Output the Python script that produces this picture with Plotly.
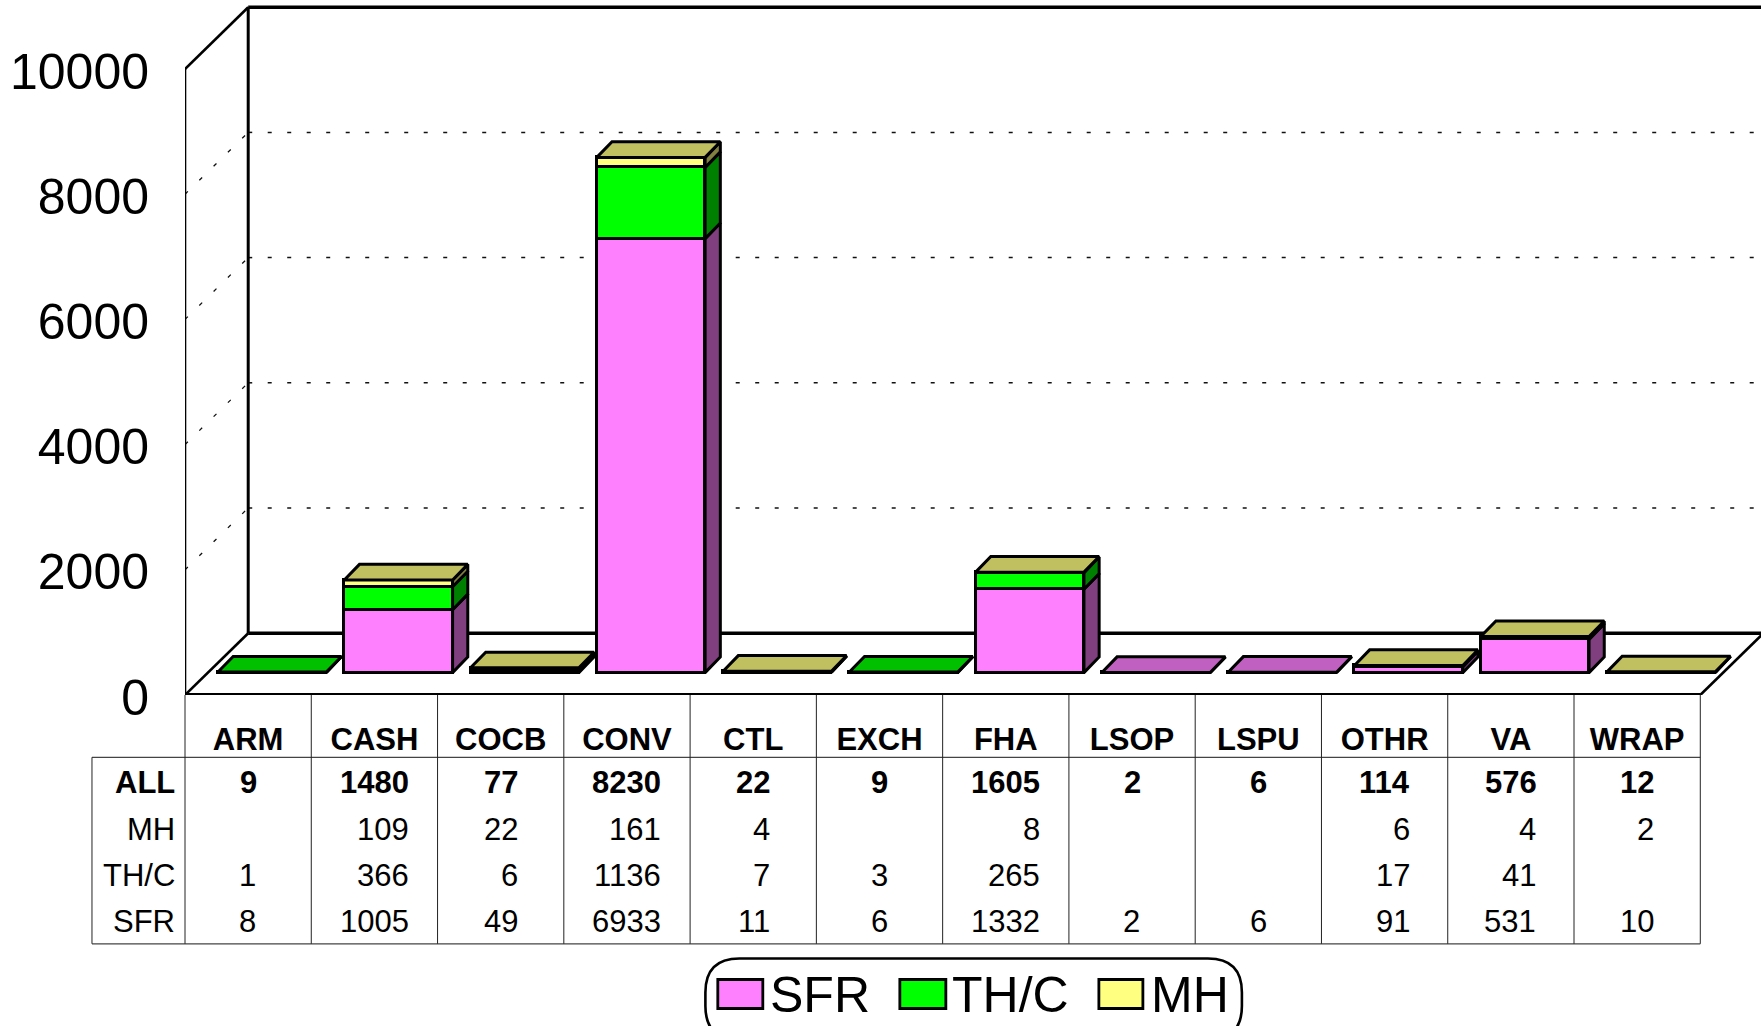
import plotly.graph_objects as go

categories = ["ARM", "CASH", "COCB", "CONV", "CTL", "EXCH", "FHA", "LSOP", "LSPU", "OTHR", "VA", "WRAP"]
all_vals = [9, 1480, 77, 8230, 22, 9, 1605, 2, 6, 114, 576, 12]
mh = [None, 109, 22, 161, 4, None, 8, None, None, 6, 4, 2]
thc = [1, 366, 6, 1136, 7, 3, 265, None, None, 17, 41, None]
sfr = [8, 1005, 49, 6933, 11, 6, 1332, 2, 6, 91, 531, 10]
y_ticks = [0, 2000, 4000, 6000, 8000, 10000]

FONT = "Liberation Sans"
W, H = 1761, 1026
PX_L, PX_FLOOR = 185.3, 695.0      # page position of the plot's origin
PX_CAT = 126.25                    # pixels per category
PX_VAL = 0.0626                    # pixels per value unit
BACK_X, BACK_Y = 63.2 / PX_CAT, 61.8 / PX_VAL     # depth of the chart box
BAR_SHIFT_X, BAR_SHIFT_Y = 24.0 / PX_CAT, 22.4 / PX_VAL
BAR_DX, BAR_DY = 15.2 / PX_CAT, 15.6 / PX_VAL
BAR_W = 108.3 / PX_CAT
LW = 3

series = [
    ("SFR", sfr, "#FF80FF", "#804080", "#C060C0"),
    ("TH/C", thc, "#00FF00", "#008000", "#00C000"),
    ("MH", mh, "#FFFF80", "#808040", "#C0C060"),
]

fig = go.Figure()
xs = list(range(len(categories)))
cum = [0.0] * len(categories)
tops = [None] * len(categories)
polys = []
for name, vals, front, side, top in series:
    bases = [c + BAR_SHIFT_Y for c in cum]
    fig.add_bar(x=[i + BAR_SHIFT_X for i in xs], y=vals, base=bases, width=BAR_W,
                name=name, showlegend=False,
                marker=dict(color=front, line=dict(color="black", width=LW)))
    sx, sy = [], []
    for i, v in enumerate(vals):
        if v is None:
            continue
        xr = i + BAR_SHIFT_X + BAR_W / 2
        y0 = bases[i]
        y1 = y0 + v
        sx += [xr, xr + BAR_DX, xr + BAR_DX, xr, xr, None]
        sy += [y0, y0 + BAR_DY, y1 + BAR_DY, y1, y0, None]
        cum[i] += v
        tops[i] = top
    polys.append((sx, sy, side))

for sx, sy, side in polys:
    fig.add_scatter(x=sx, y=sy, mode="lines", fill="toself", fillcolor=side,
                    line=dict(color="black", width=LW), hoverinfo="skip", showlegend=False)

for _, _, _, _, top in series:
    tx, ty = [], []
    for i in xs:
        if tops[i] != top:
            continue
        xl = i + BAR_SHIFT_X - BAR_W / 2
        xr = xl + BAR_W
        y1 = cum[i] + BAR_SHIFT_Y
        tx += [xl, xr, xr + BAR_DX, xl + BAR_DX, xl, None]
        ty += [y1, y1, y1 + BAR_DY, y1 + BAR_DY, y1, None]
    fig.add_scatter(x=tx, y=ty, mode="lines", fill="toself", fillcolor=top,
                    line=dict(color="black", width=LW), hoverinfo="skip", showlegend=False)

x_min, x_front_r = -0.5, len(categories) - 0.5
x_max = x_min + (W - PX_L) / PX_CAT
y_max = PX_FLOOR / PX_VAL


def px_x(p):
    return (p - PX_L) / (W - PX_L)


def px_y(p):
    return (PX_FLOOR - p) / PX_FLOOR


shapes = []


def dline(x0, y0, x1, y1, width=2, color="black", dash="solid"):
    shapes.append(dict(type="line", x0=x0, y0=y0, x1=x1, y1=y1, xref="x", yref="y", layer="below",
                       line=dict(color=color, width=width, dash=dash)))


# Grid
for t in y_ticks[1:-1]:
    dline(x_min + BACK_X, t + BACK_Y, x_max + 0.05, t + BACK_Y, 1.5, "#111111", "4px,15.5px")
    dline(x_min, t, x_min + BACK_X, t + BACK_Y, 1.3, "#111111", "4px,16px")
# Floor and walls
dline(x_min + BACK_X, BACK_Y, x_max + 0.05, BACK_Y, 3.6)
dline(x_min, 0, x_min + BACK_X, BACK_Y, 2.6)
dline(x_front_r, 0, x_front_r + BACK_X, BACK_Y, 2.6)
dline(x_min, 0, x_front_r, 0, 3.8)
dline(x_min, 0, x_min, 10000, 2.6)
dline(x_min + BACK_X, BACK_Y, x_min + BACK_X, 10000 + BACK_Y, 3)
dline(x_min, 10000, x_min + BACK_X, 10000 + BACK_Y, 2.6)
dline(x_min + BACK_X, 10000 + BACK_Y, x_max + 0.05, 10000 + BACK_Y, 3.4)


def pline(x0, y0, x1, y1, color="#222222", width=1):
    shapes.append(dict(type="line", x0=x0, y0=y0, x1=x1, y1=y1, xref="paper", yref="paper",
                       line=dict(color=color, width=width)))


# Data table rules
TAB_L, TAB_H0, TAB_H1 = 92.3, 757.3, 943.8
TAB_R = px_x(PX_L + PX_CAT * 12)
pline(px_x(TAB_L), px_y(TAB_H0), TAB_R, px_y(TAB_H0), "#444444", 1.3)
pline(px_x(TAB_L), px_y(TAB_H1), TAB_R, px_y(TAB_H1), "#444444", 1.3)
pline(px_x(TAB_L), px_y(TAB_H0), px_x(TAB_L), px_y(TAB_H1))
for k in range(len(categories) + 1):
    pline(px_x(PX_L + PX_CAT * k), px_y(PX_FLOOR), px_x(PX_L + PX_CAT * k), px_y(TAB_H1))

annotations = []


def table_text(text, col, py, bold=False, right=None, size=31):
    a = dict(text=f"<b>{text}</b>" if bold else str(text), yref="paper", y=px_y(py), yanchor="middle",
             showarrow=False, borderpad=0, borderwidth=0, font=dict(family=FONT, size=size, color="black"))
    if col is None:
        a.update(xref="paper", x=px_x(right), xanchor="right")
    else:
        a.update(xref="x", x=col, xanchor="right" if right is not None else "center")
        if right is not None:
            a["xshift"] = right
    annotations.append(a)


ROWS = [("MH", mh, 829.2), ("TH/C", thc, 875.2), ("SFR", sfr, 921.0)]
ROW_ALL = 782.3
table_text("ALL", None, ROW_ALL, bold=True, right=175.5)
for label, _, py in ROWS:
    table_text(label, None, py, right=175.5)
for i in xs:
    table_text(all_vals[i], i, ROW_ALL, bold=True)
    longest = len(str(all_vals[i]))
    for _, vals, py in ROWS:
        if vals[i] is not None:
            table_text(vals[i], i, py, right=0.278 * 31 * longest - 0.3)

# Legend
LX0, LX1, LY0, LY1, R = 705.6, 1242.0, 958.5, 1040.0, 34.0
fx, fy = px_x, px_y
path = (f"M {fx(LX0 + R)},{fy(LY0)} L {fx(LX1 - R)},{fy(LY0)} Q {fx(LX1)},{fy(LY0)} {fx(LX1)},{fy(LY0 + R)} "
        f"L {fx(LX1)},{fy(LY1 - R)} Q {fx(LX1)},{fy(LY1)} {fx(LX1 - R)},{fy(LY1)} "
        f"L {fx(LX0 + R)},{fy(LY1)} Q {fx(LX0)},{fy(LY1)} {fx(LX0)},{fy(LY1 - R)} "
        f"L {fx(LX0)},{fy(LY0 + R)} Q {fx(LX0)},{fy(LY0)} {fx(LX0 + R)},{fy(LY0)} Z")
shapes.append(dict(type="path", path=path, xref="paper", yref="paper", line=dict(color="black", width=2.6)))
legend_pos = [(718, 763, 769), (900, 946, 951), (1099, 1143, 1150)]
for (name, _, front, _, _), (sx0, sx1, tx) in zip(series, legend_pos):
    shapes.append(dict(type="rect", xref="paper", yref="paper", x0=fx(sx0), x1=fx(sx1), y0=fy(979.5), y1=fy(1008.5),
                       fillcolor=front, line=dict(color="black", width=2.8)))
    annotations.append(dict(text=name, xref="paper", yref="paper", x=fx(tx), y=fy(995), xanchor="left",
                            yanchor="middle", showarrow=False, borderpad=0,
                            font=dict(family=FONT, size=50, color="black")))

fig.update_layout(
    width=W, height=H, autosize=False, barmode="overlay", showlegend=False,
    paper_bgcolor="white", plot_bgcolor="white",
    margin=dict(l=PX_L, r=0, t=0, b=H - PX_FLOOR, pad=0),
    shapes=shapes, annotations=annotations, bargap=0,
    xaxis=dict(range=[x_min, x_max], tickmode="array", tickvals=xs,
               ticktext=[f"<b>{c}</b>" for c in categories], showgrid=False, zeroline=False, showline=False,
               ticks="outside", ticklen=16.5, tickcolor="rgba(0,0,0,0)", tickangle=0,
               tickfont=dict(family=FONT, size=31, color="black")),
    yaxis=dict(range=[0, y_max], tickmode="array", tickvals=y_ticks, ticktext=[str(t) for t in y_ticks],
               showgrid=False, zeroline=False, showline=False, ticks="outside", ticklen=25,
               ticklabelshift=2,
               tickcolor="rgba(0,0,0,0)", tickfont=dict(family=FONT, size=50, color="black")),
)

fig.write_html("out.html", config={"displayModeBar": False},
               post_script="document.body.style.margin='0';document.body.style.overflow='hidden';")
